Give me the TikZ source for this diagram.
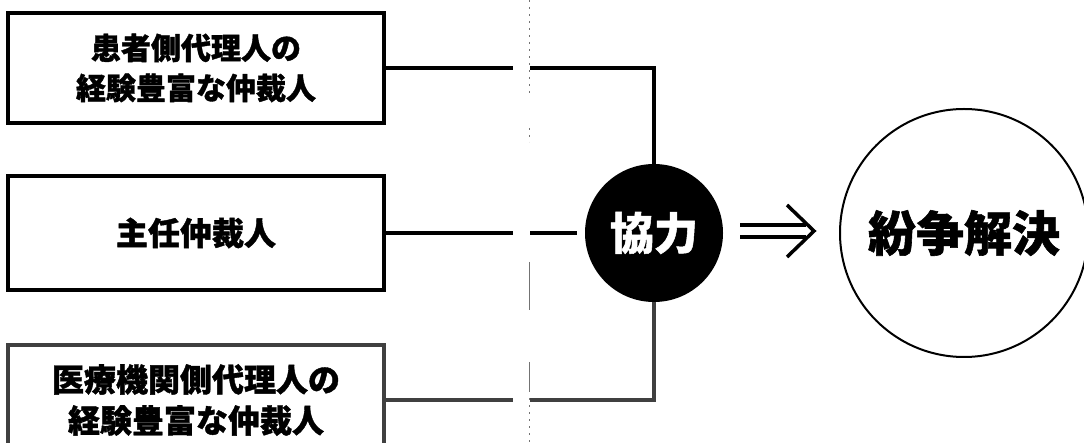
\documentclass[tikz,border=0pt]{standalone}
\usepackage{fontspec}
\newfontfamily\jp{Noto Sans CJK JP}[BoldFeatures={FakeBold=1.2}]
\tikzset{
  box/.style={draw, line width=3.5pt, minimum width=376pt, minimum height=110pt, align=center, inner sep=0pt},
  boxfont/.style={font=\jp\bfseries\fontsize{#1}{40}\selectfont},
  conn/.style={line width=3.5pt},
  gutter/.style={line width=0.8pt, black!55},
  dotgutter/.style={gutter, dash pattern=on 2pt off 5pt},
  arrowline/.style={line width=3.5pt},
}
\begin{document}
\begin{tikzpicture}[x=1pt,y=-1pt]
\useasboundingbox (0,0) rectangle (1084,443);
\clip (0,0) rectangle (1084,443);
% boxes
\node[box, boxfont=30] (b1) at (196,68) {患者側代理人の\\経験豊富な仲裁人};
\node[box, boxfont=32, minimum height=114pt] (b2) at (196,233) {主任仲裁人};
\node[box, boxfont=32, draw=black!75] (b3) at (196,400) {医療機関側代理人の\\[1pt]経験豊富な仲裁人};
% circles
\node[circle, fill=black, minimum size=138pt, inner sep=0pt, text=white,
      font=\jp\bfseries\fontsize{44}{44}\selectfont] (kyo) at (654,233) {協力};
\node[circle, draw, line width=2pt, minimum size=248pt, inner sep=0pt,
      font=\jp\bfseries\fontsize{48}{48}\selectfont] (kai) at (964,233) {紛争解決};
% gutter line
\draw[dotgutter] (529,0) -- (529,95);
\draw[dotgutter] (529,128) -- (529,142);
\draw[gutter] (529,262) -- (529,310);
\draw[gutter] (529,362) -- (529,392);
\draw[dotgutter] (529,398) -- (529,443);
% connectors
\coordinate (t1) at (513,68);
\coordinate (t2) at (530,68);
\draw[conn] (b1.east) -- (t1);
\draw[conn] (t2) -| (kyo.north);
\coordinate (m1) at (513,233);
\coordinate (m2) at (530,233);
\coordinate (m3) at ([xshift=-8pt]kyo.west);
\draw[conn] (b2.east) -- (m1);
\draw[conn] (m2) -- (m3);
\coordinate (u1) at (513,400);
\coordinate (u2) at (530,400);
\draw[conn, black!75] (b3.east) -- (u1);
\draw[conn, black!75] (u2) -| (kyo.south);
% double arrow
\coordinate (a1s) at (740,225);
\coordinate (a1e) at (806,225);
\coordinate (a2s) at (740,237);
\coordinate (a2e) at (806,237);
\coordinate (h1) at (787,205);
\coordinate (h2) at (814,231);
\coordinate (h3) at (787,257);
\draw[arrowline] (a1s) -- (a1e);
\draw[arrowline] (a2s) -- (a2e);
\draw[arrowline, line join=miter] (h1) -- (h2) -- (h3);
\end{tikzpicture}
\end{document}
